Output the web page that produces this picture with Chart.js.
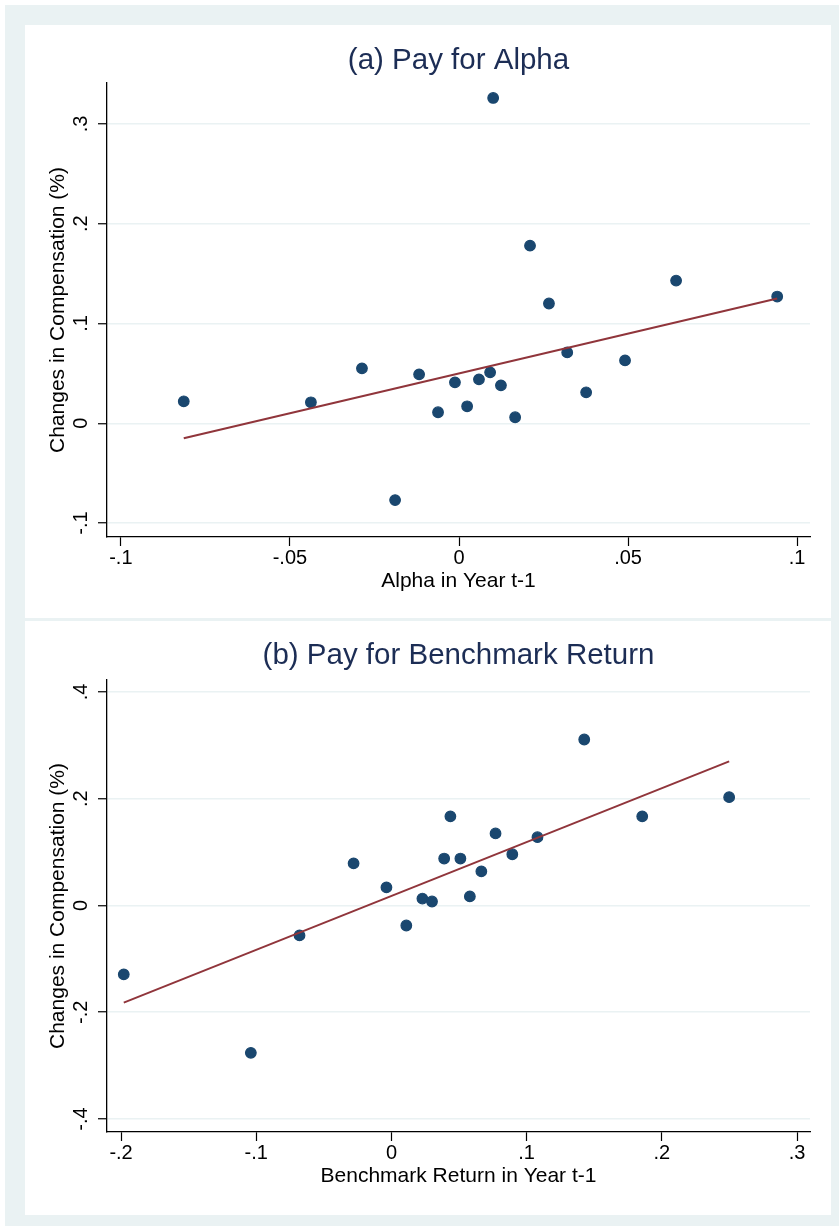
<!DOCTYPE html>
<html>
<head>
<meta charset="utf-8">
<title>Pay for Alpha / Pay for Benchmark Return</title>
<script src="https://cdn.jsdelivr.net/npm/chart.js@4.4.1/dist/chart.umd.min.js"></script>
<style>
  html, body { margin: 0; padding: 0; background: #fff; }
  body { width: 839px; height: 1227px; position: relative; overflow: hidden; }
  #frame { position: absolute; left: 5px; top: 5px; width: 834px; height: 1221px; background: #eaf2f3; }
  canvas { position: absolute; background: #fff; }
  #chartA { left: 25px; top: 25px; }
  #chartB { left: 25px; top: 621px; }
</style>
</head>
<body>
<div id="frame"></div>
<canvas id="chartA" width="806" height="593"></canvas>
<canvas id="chartB" width="806" height="594"></canvas>
<script>
// ---- (a) Pay for Alpha ----
const alphaX = [-0.0814, -0.0438, -0.0287, -0.0189, -0.0118, -0.0062, -0.0012, 0.0024, 0.0059, 0.0092,
                0.0101, 0.0124, 0.0166, 0.0210, 0.0266, 0.0320, 0.0376, 0.0491, 0.0642, 0.0941];
const alphaY = [0.022, 0.021, 0.055, -0.077, 0.049, 0.011, 0.041, 0.017, 0.044, 0.051,
                0.326, 0.038, 0.006, 0.178, 0.120, 0.071, 0.031, 0.063, 0.143, 0.127];
const alphaFitX = [-0.0814, 0.0941];
const alphaFitY = [-0.015, 0.125];
const alphaXTicks = [-0.1, -0.05, 0, 0.05, 0.1];
const alphaXLabels = ['-.1', '-.05', '0', '.05', '.1'];
const alphaYTicks = [-0.1, 0, 0.1, 0.2, 0.3];
const alphaYLabels = ['-.1', '0', '.1', '.2', '.3'];
const alphaXRange = [-0.1041, 0.1038];
const alphaYRange = [-0.114, 0.341];

// ---- (b) Pay for Benchmark Return ----
const benchX = [-0.198, -0.104, -0.068, -0.028, -0.0037, 0.011, 0.0229, 0.030, 0.039, 0.0436,
                0.051, 0.058, 0.0665, 0.077, 0.0894, 0.108, 0.1426, 0.1855, 0.2498];
const benchY = [-0.129, -0.276, -0.056, 0.079, 0.034, -0.0375, 0.013, 0.0075, 0.088, 0.167,
                0.088, 0.017, 0.064, 0.135, 0.096, 0.128, 0.311, 0.167, 0.203];
const benchFitX = [-0.198, 0.2498];
const benchFitY = [-0.182, 0.270];
const benchXTicks = [-0.2, -0.1, 0, 0.1, 0.2, 0.3];
const benchXLabels = ['-.2', '-.1', '0', '.1', '.2', '.3'];
const benchYTicks = [-0.4, -0.2, 0, 0.2, 0.4];
const benchYLabels = ['-.4', '-.2', '0', '.2', '.4'];
const benchXRange = [-0.2104, 0.3096];
const benchYRange = [-0.4244, 0.4225];

const NAVY = '#1a476f';
const MAROON = '#90353b';
const GRID = '#eaf2f3';

Chart.defaults.font.family = "'Liberation Sans', Arial, Helvetica, sans-serif";
Chart.defaults.color = '#000';

function toPoints(xs, ys) {
    return xs.map((x, i) => ({ x: x, y: ys[i] }));
}

function makePanel(id, p) {
    return new Chart(document.getElementById(id), {
        type: 'scatter',
        data: {
            datasets: [
                {   // fitted line (drawn on top)
                    data: toPoints(p.fitX, p.fitY),
                    showLine: true,
                    borderColor: MAROON,
                    borderWidth: 2,
                    pointRadius: 0,
                    fill: false
                },
                {
                    data: toPoints(p.x, p.y),
                    backgroundColor: NAVY,
                    borderColor: NAVY,
                    borderWidth: 1.2,
                    pointRadius: 5.3
                }
            ]
        },
        options: {
            responsive: false,
            animation: false,
            devicePixelRatio: 1,
            layout: { padding: { left: 0, right: 21, top: 0, bottom: 0 } },
            plugins: {
                legend: { display: false },
                tooltip: { enabled: false },
                title: {
                    display: true,
                    text: p.title,
                    fullSize: false,
                    color: '#1c2d55',
                    font: { size: 29.5, weight: 'normal' },
                    padding: { top: p.titlePad[0], bottom: p.titlePad[1] }
                }
            },
            scales: {
                x: {
                    type: 'linear',
                    position: 'bottom',
                    min: p.xRange[0],
                    max: p.xRange[1],
                    afterBuildTicks: s => { s.ticks = p.xTicks.map(v => ({ value: v })); },
                    afterFit: s => { s.height = p.xAxisH; },
                    ticks: {
                        callback: (v, i) => p.xLabels[i],
                        font: { size: 20 },
                        color: '#000',
                        padding: 0,
                        minRotation: 0,
                        maxRotation: 0,
                        autoSkip: false
                    },
                    grid: { drawOnChartArea: false, tickColor: '#000', tickLength: 9, tickWidth: 1.2 },
                    border: { color: '#000', width: 1.3 },
                    title: {
                        display: true,
                        text: p.xTitle,
                        font: { size: 21 },
                        color: '#000',
                        padding: { top: 0, bottom: p.xTitlePad }
                    }
                },
                y: {
                    type: 'linear',
                    position: 'left',
                    min: p.yRange[0],
                    max: p.yRange[1],
                    afterBuildTicks: s => { s.ticks = p.yTicks.map(v => ({ value: v })); },
                    afterFit: s => { s.width = 82; },
                    ticks: {
                        callback: (v, i) => p.yLabels[i],
                        font: { size: 20 },
                        color: '#000',
                        padding: 5,
                        minRotation: 90,
                        maxRotation: 90,
                        crossAlign: 'center',
                        autoSkip: false
                    },
                    grid: { color: GRID, lineWidth: 1.5, tickColor: '#000', tickLength: 9, tickWidth: 1.2 },
                    border: { color: '#000', width: 1.3 },
                    title: {
                        display: true,
                        text: 'Changes in Compensation (%)',
                        font: { size: 21 },
                        color: '#000',
                        padding: { top: 20.4, bottom: 0 }
                    }
                }
            }
        }
    });
}

makePanel('chartA', {
    title: '(a) Pay for Alpha',
    titlePad: [18.6, 4.0],
    xTitle: 'Alpha in Year t-1',
    xTitlePad: 24.4,
    xAxisH: 81,
    x: alphaX, y: alphaY, fitX: alphaFitX, fitY: alphaFitY,
    xTicks: alphaXTicks, xLabels: alphaXLabels, yTicks: alphaYTicks, yLabels: alphaYLabels,
    xRange: alphaXRange, yRange: alphaYRange
});

makePanel('chartB', {
    title: '(b) Pay for Benchmark Return',
    titlePad: [17.1, 6.5],
    xTitle: 'Benchmark Return in Year t-1',
    xTitlePad: 26,
    xAxisH: 83,
    x: benchX, y: benchY, fitX: benchFitX, fitY: benchFitY,
    xTicks: benchXTicks, xLabels: benchXLabels, yTicks: benchYTicks, yLabels: benchYLabels,
    xRange: benchXRange, yRange: benchYRange
});
</script>
</body>
</html>
